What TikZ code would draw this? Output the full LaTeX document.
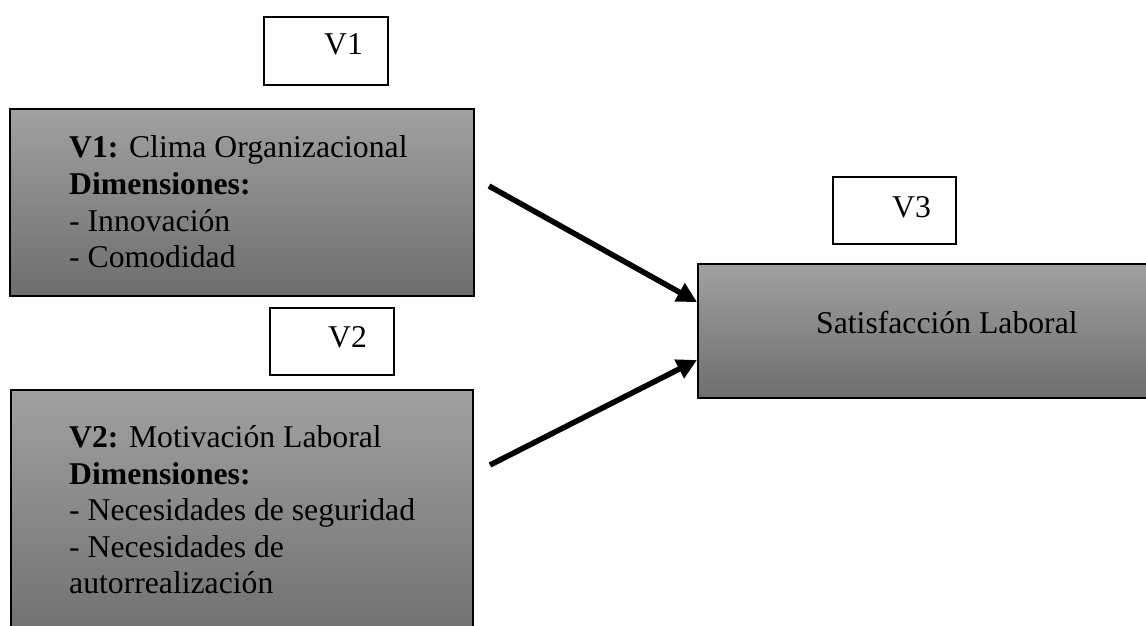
\documentclass[tikz,border=0pt]{standalone}
\usepackage{fontspec}
\setmainfont{Liberation Serif}
\usetikzlibrary{arrows.meta}
\begin{document}
\begin{tikzpicture}[x=1pt,y=-1pt,
  bigbox/.style={draw=black,line width=1.8pt,top color=black!37,bottom color=black!57,inner sep=0pt,anchor=north west},
  tagbox/.style={draw=black,line width=1.6pt,fill=white,inner sep=0pt,anchor=north west},
  txt/.style={anchor=base west,inner sep=0pt,font=\fontsize{31.7}{37}\selectfont},
  conn/.style={line width=5.5pt,-{Triangle[length=20pt,width=20pt]}}]
\useasboundingbox (0,0) rectangle (1146,626);
\clip (0,0) rectangle (1146,626);
% small tag boxes
\node[tagbox,minimum width=124pt,minimum height=68pt] (t1) at (263,16) {};
\node[txt] (t1x) at (324,55) {V1};
\node[tagbox,minimum width=124pt,minimum height=67pt] (t2) at (269,307) {};
\node[txt] (t2x) at (328,347) {V2};
\node[tagbox,minimum width=123pt,minimum height=67pt] (t3) at (832,176) {};
\node[txt] (t3x) at (892,217) {V3};
% big boxes
\node[bigbox,minimum width=464pt,minimum height=187pt] (b1) at (9,108) {};
\node[txt] (b1a) at (69,157) {\textbf{V1:} Clima Organizacional};
\node[txt] (b1b) at (69,194) {\textbf{Dimensiones:}};
\node[txt] (b1c) at (69,231) {- Innovación};
\node[txt] (b1d) at (69,267) {- Comodidad};
\node[bigbox,minimum width=462pt,minimum height=260pt] (b2) at (10,389) {};
\node[txt] (b2a) at (69,447) {\textbf{V2:} Motivación Laboral};
\node[txt] (b2b) at (69,484) {\textbf{Dimensiones:}};
\node[txt] (b2c) at (69,520) {- Necesidades de seguridad};
\node[txt] (b2d) at (69,557) {- Necesidades de};
\node[txt] (b2e) at (69,593) {autorrealización};
\node[bigbox,minimum width=470pt,minimum height=134pt] (b3) at (697,263) {};
\node[txt] (b3x) at (816,333) {Satisfacción Laboral};
% connectors
\coordinate (s1) at (489,186);
\coordinate (s2) at (490,465);
\draw[conn] (s1) -- (b3.west |- 0,302);
\draw[conn] (s2) -- (b3.west |- 0,360);
\end{tikzpicture}
\end{document}
